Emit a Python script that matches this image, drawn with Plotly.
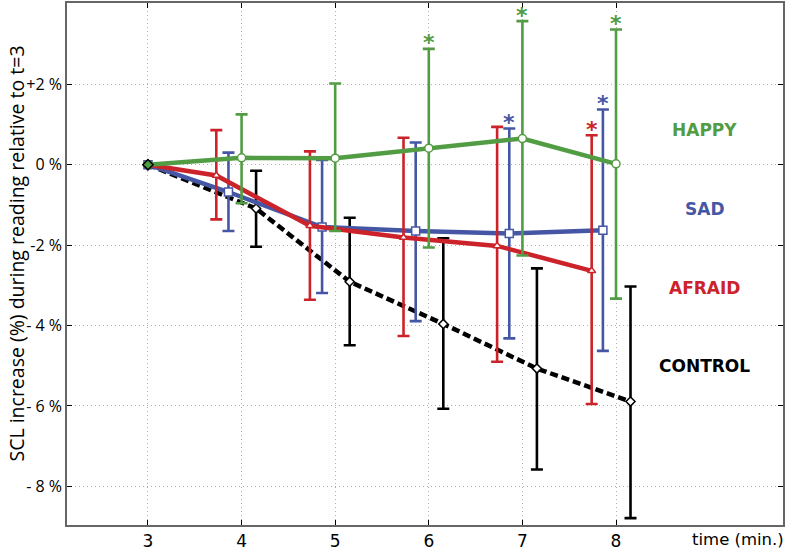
import plotly.graph_objects as go

# ---- data ----
x_ticks = [3, 4, 5, 6, 7, 8]
y_tickvals = [2, 0, -2, -4, -6, -8]
y_ticktext = ["+2 %", "0 %", "-2 %", "- 4 %", "- 6 %", "- 8 %"]

happy_t = [3, 4, 5, 6, 7, 8]
happy_y = [0, 0.17, 0.16, 0.41, 0.65, 0.02]
happy_hi = [0, 1.25, 2.02, 2.88, 3.57, 3.36]
happy_lo = [0, -0.96, -1.65, -2.06, -2.26, -3.33]

sad_t = [3, 3.86, 4.86, 5.86, 6.86, 7.86]
sad_y = [0, -0.68, -1.55, -1.65, -1.71, -1.63]
sad_hi = [0, 0.30, 0.12, 0.55, 0.90, 1.37]
sad_lo = [0, -1.65, -3.19, -3.89, -4.32, -4.63]

afraid_t = [3, 3.73, 4.73, 5.73, 6.73, 7.74]
afraid_y = [0, -0.27, -1.52, -1.81, -2.02, -2.64]
afraid_hi = [0, 0.86, 0.33, 0.67, 0.94, 0.73]
afraid_lo = [0, -1.36, -3.36, -4.26, -4.90, -5.95]

control_t = [3, 4.155, 5.155, 6.155, 7.155, 8.155]
control_y = [0, -1.09, -2.91, -3.96, -5.07, -5.89]
control_hi = [0, -0.15, -1.32, -1.83, -2.58, -3.03]
control_lo = [0, -2.04, -4.49, -6.07, -7.58, -8.79]

# significance stars: indices of points marked with "*"
happy_sig = [3, 4, 5]
sad_sig = [4, 5]
afraid_sig = [5]

labels = ["HAPPY", "SAD", "AFRAID", "CONTROL"]
label_y = [0.86, -1.09, -3.07, -5.01]
label_x = 8.95

GREEN = "#529c44"
BLUE = "#4557a4"
RED = "#cc2229"
BLACK = "#000000"

fig = go.Figure()


def add_series(t, y, hi, lo, color, symbol, msize, dash=None, width=4.5, mfill="white"):
    plus = [h - v for h, v in zip(hi, y)]
    minus = [v - l for l, v in zip(lo, y)]
    fig.add_trace(go.Scatter(
        x=t[1:], y=y[1:], mode="markers",
        marker=dict(size=1, color=color, opacity=0),
        error_y=dict(type="data", symmetric=False, array=plus[1:], arrayminus=minus[1:],
                     color=color, thickness=2.6, width=6),
        showlegend=False, hoverinfo="skip"))
    fig.add_trace(go.Scatter(
        x=t, y=y, mode="lines+markers",
        line=dict(color=color, width=width, dash=dash),
        marker=dict(symbol=symbol, size=msize, color=mfill,
                    line=dict(color=color, width=1.5)),
        showlegend=False))


add_series(control_t, control_y, control_hi, control_lo, BLACK, "diamond", 7, dash="8px,4px", width=4.5)
add_series(sad_t, sad_y, sad_hi, sad_lo, BLUE, "square", 8)
add_series(afraid_t, afraid_y, afraid_hi, afraid_lo, RED, "triangle-up", 7)
add_series(happy_t, happy_y, happy_hi, happy_lo, GREEN, "circle", 8)

fig.add_trace(go.Scatter(x=[3], y=[0], mode="markers",
                         marker=dict(symbol="diamond", size=8, color=GREEN,
                                     line=dict(color=BLACK, width=1.5)),
                         showlegend=False))

annotations = []
for idxs, t, hi, color in [(happy_sig, happy_t, happy_hi, GREEN),
                           (sad_sig, sad_t, sad_hi, BLUE),
                           (afraid_sig, afraid_t, afraid_hi, RED)]:
    for i in idxs:
        annotations.append(dict(x=t[i], y=hi[i], xref="x", yref="y", text="<b>*</b>",
                                showarrow=False, yanchor="middle", yshift=6,
                                font=dict(family="DejaVu Sans", size=22, color=color)))

for lab, ly, col in zip(labels, label_y, [GREEN, BLUE, RED, BLACK]):
    annotations.append(dict(x=label_x, y=ly, xref="x", yref="y", text="<b>%s</b>" % lab,
                            showarrow=False, font=dict(family="DejaVu Sans", size=17, color=col)))

annotations.append(dict(x=1, y=0, xref="paper", yref="paper", text="time (min.)",
                        showarrow=False, xanchor="right", yanchor="top", yshift=-3, xshift=3,
                        font=dict(family="DejaVu Sans", size=16.5, color="black")))
annotations.append(dict(x=0, y=0.52, xref="paper", yref="paper",
                        text="SCL increase (%) during reading relative to t=3",
                        showarrow=False, textangle=-90, xanchor="center", yanchor="middle",
                        xshift=-50,
                        font=dict(family="Open Sans", size=19.5, color="black")))

axis_common = dict(showline=True, linecolor="#666666", linewidth=1.5, mirror="ticks",
                   ticks="inside", ticklen=5, tickcolor="black", tickwidth=1.2,
                   showgrid=True, gridcolor="#b0b0b0", griddash="1px,3px", gridwidth=1,
                   zeroline=False)

fig.update_layout(
    width=796, height=552,
    margin=dict(l=67, r=13, t=1, b=25),
    plot_bgcolor="white", paper_bgcolor="white",
    xaxis=dict(range=[2.135, 9.784], tickvals=x_ticks, ticktext=[str(v) for v in x_ticks],
               tickfont=dict(family="DejaVu Sans", size=17, color="black"), **axis_common),
    yaxis=dict(range=[-8.96, 4.02], tickvals=y_tickvals, ticktext=y_ticktext,
               tickfont=dict(family="Open Sans", size=16, color="black"), **axis_common),
    annotations=annotations,
)

fig.write_html("out.html", config={"displayModeBar": False},
               post_script="document.body.style.margin='0';")
